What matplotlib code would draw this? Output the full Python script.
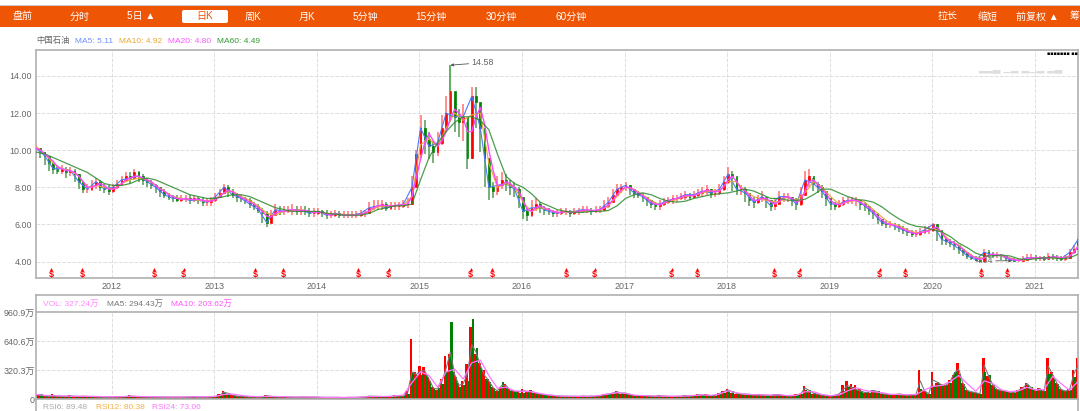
import numpy as np
import matplotlib
matplotlib.use('Agg')
import matplotlib.pyplot as plt
from matplotlib.patches import Rectangle, FancyBboxPatch

plt.rcParams['font.family'] = ['Liberation Sans', 'Noto Sans CJK SC', 'DejaVu Sans']

# half-month samples, one line per year
close = [10.1,9.9,9.7,9.3,9.0,8.9,9.0,8.8,8.9,8.7,8.3,7.9,7.9,8.1,8.3,8.0,7.9,7.8,
    8.0,8.2,8.4,8.6,8.5,8.8,8.6,8.4,8.3,8.1,8.0,7.8,7.6,7.5,7.4,7.3,7.4,7.4,7.3,7.4,7.3,7.2,7.2,7.3,
    7.5,7.7,8.0,7.8,7.6,7.5,7.4,7.3,7.1,7.0,6.8,6.6,6.1,6.5,6.8,6.7,6.7,6.8,6.8,6.7,6.8,6.7,6.6,6.6,
    6.7,6.6,6.5,6.5,6.6,6.5,6.5,6.5,6.5,6.5,6.6,6.6,6.9,7.0,7.0,7.1,6.9,7.0,7.0,7.0,7.1,7.1,8.0,9.8,
    11.2,10.6,10.2,9.9,10.4,11.2,12.0,13.2,11.8,11.5,11.8,9.6,12.9,12.6,11.2,9.6,8.0,7.8,8.1,8.4,8.2,8.0,7.9,7.5,
    6.7,6.5,6.9,7.1,6.9,6.8,6.7,6.6,6.6,6.7,6.7,6.6,6.7,6.7,6.8,6.8,6.7,6.8,6.8,7.0,7.2,7.6,7.9,8.0,
    8.1,7.9,7.7,7.6,7.5,7.3,7.1,7.0,7.1,7.2,7.3,7.4,7.4,7.5,7.6,7.5,7.6,7.7,7.8,7.9,7.7,7.7,7.9,8.3,
    8.7,8.6,7.9,7.9,7.7,7.3,7.2,7.4,7.5,7.3,7.0,7.1,7.5,7.5,7.5,7.3,7.1,7.6,8.4,8.6,8.2,8.0,7.8,7.4,
    7.1,7.0,7.1,7.3,7.3,7.3,7.3,7.1,7.0,6.8,6.6,6.3,6.1,6.0,6.0,5.9,5.8,5.7,5.6,5.5,5.5,5.6,5.7,5.7,
    6.0,5.7,5.2,5.1,5.0,4.9,4.7,4.5,4.3,4.2,4.1,4.05,4.5,4.4,4.35,4.35,4.3,4.2,4.1,4.05,4.05,4.1,4.2,4.25,
    4.2,4.2,4.15,4.3,4.25,4.2,4.15,4.2,4.5,4.7,5.2]
high = [10.3,10.1,9.9,9.6,9.3,9.2,9.2,9.1,9.1,9.0,8.7,8.3,8.2,8.4,8.5,8.4,8.2,8.1,
    8.2,8.4,8.6,8.8,8.8,9.0,8.9,8.7,8.5,8.4,8.2,8.0,7.9,7.7,7.6,7.6,7.6,7.6,7.6,7.6,7.5,7.5,7.4,7.5,
    7.7,7.9,8.2,8.1,7.9,7.7,7.6,7.5,7.4,7.2,7.1,6.9,6.7,6.8,7.1,7.0,7.0,7.0,7.1,7.0,7.0,7.0,6.9,6.9,
    6.9,6.8,6.8,6.7,6.8,6.7,6.7,6.7,6.7,6.7,6.8,6.8,7.2,7.3,7.3,7.3,7.2,7.2,7.2,7.2,7.3,7.4,8.6,10.0,
    11.9,11.6,11.0,10.5,11.0,11.9,12.9,14.58,12.7,12.2,12.5,11.5,13.4,13.4,12.3,10.6,8.7,8.3,8.6,8.8,8.7,8.4,8.3,8.0,
    7.4,6.9,7.3,7.4,7.2,7.0,6.9,6.8,6.8,6.9,6.9,6.8,6.9,6.9,7.0,7.0,6.9,7.0,7.0,7.3,7.5,7.9,8.2,8.2,
    8.3,8.1,7.9,7.8,7.7,7.5,7.3,7.2,7.3,7.4,7.5,7.6,7.6,7.7,7.8,7.7,7.8,7.9,8.0,8.1,7.9,7.9,8.2,8.6,
    9.1,8.9,8.3,8.1,8.0,7.6,7.5,7.6,7.8,7.5,7.2,7.4,7.8,7.7,7.7,7.5,7.4,8.0,8.9,9.0,8.5,8.3,8.1,7.7,
    7.4,7.2,7.3,7.5,7.5,7.5,7.5,7.3,7.2,7.0,6.8,6.6,6.3,6.2,6.2,6.1,6.0,5.9,5.8,5.7,5.7,5.8,5.9,5.9,
    6.1,5.9,5.4,5.3,5.2,5.1,4.9,4.7,4.5,4.4,4.3,4.2,4.7,4.6,4.5,4.5,4.4,4.3,4.2,4.2,4.2,4.3,4.4,4.4,
    4.35,4.3,4.3,4.45,4.4,4.35,4.3,4.35,4.7,4.9,5.4]
low = [9.8,9.6,9.2,8.9,8.7,8.7,8.7,8.5,8.6,8.3,7.9,7.7,7.7,7.8,7.9,7.8,7.7,7.6,
    7.7,7.9,8.1,8.3,8.2,8.4,8.3,8.1,8.0,7.9,7.7,7.5,7.4,7.3,7.2,7.2,7.2,7.2,7.1,7.2,7.1,7.0,7.0,7.0,
    7.2,7.4,7.7,7.5,7.4,7.2,7.2,7.1,6.9,6.8,6.6,6.1,5.85,6.1,6.5,6.5,6.5,6.6,6.5,6.5,6.5,6.5,6.4,6.4,
    6.5,6.4,6.3,6.35,6.4,6.35,6.35,6.35,6.35,6.35,6.4,6.4,6.6,6.8,6.8,6.8,6.7,6.8,6.8,6.8,6.9,6.9,7.1,8.0,
    9.6,9.8,9.5,9.3,9.7,10.3,11.0,11.5,11.0,10.7,10.5,9.0,9.5,11.2,9.9,8.0,7.3,7.4,7.6,7.9,7.8,7.6,7.5,6.9,
    6.3,6.2,6.4,6.7,6.6,6.5,6.5,6.4,6.4,6.5,6.5,6.4,6.5,6.5,6.6,6.6,6.5,6.6,6.6,6.7,6.9,7.2,7.6,7.7,
    7.8,7.6,7.4,7.4,7.2,7.0,6.9,6.8,6.8,7.0,7.1,7.1,7.2,7.3,7.3,7.3,7.4,7.5,7.5,7.6,7.4,7.5,7.6,7.8,
    8.2,7.8,7.6,7.6,7.2,7.0,6.9,7.1,7.2,6.9,6.7,6.8,7.1,7.2,7.2,7.0,6.8,7.0,7.7,8.0,7.8,7.7,7.4,7.0,
    6.8,6.8,6.9,7.0,7.1,7.1,7.0,6.8,6.7,6.5,6.3,6.0,5.9,5.8,5.8,5.7,5.6,5.5,5.4,5.3,5.3,5.4,5.5,5.5,
    5.6,5.1,4.9,4.9,4.8,4.6,4.4,4.3,4.15,4.1,4.05,4.05,4.2,4.2,4.2,4.2,4.1,4.05,4.04,4.04,4.05,4.05,4.1,4.1,
    4.05,4.05,4.05,4.1,4.1,4.05,4.05,4.05,4.2,4.4,4.7]
ma20 = [10.1,10.0,9.8,9.6,9.4,9.1,9.0,8.9,8.9,8.8,8.6,8.3,8.0,8.0,8.1,8.2,8.1,7.9,
    7.9,8.0,8.2,8.4,8.5,8.6,8.6,8.5,8.4,8.3,8.1,7.9,7.8,7.6,7.5,7.4,7.35,7.4,7.35,7.35,7.35,7.3,7.25,7.25,
    7.35,7.5,7.7,7.85,7.75,7.6,7.45,7.35,7.2,7.1,6.9,6.7,6.45,6.4,6.6,6.7,6.7,6.75,6.8,6.75,6.75,6.75,6.7,6.65,
    6.65,6.65,6.55,6.5,6.55,6.55,6.5,6.5,6.5,6.5,6.55,6.6,6.75,6.9,7.0,7.05,7.0,7.0,7.0,7.05,7.05,7.1,7.5,8.5,
    9.5,10.4,10.9,10.5,10.2,10.5,11.0,11.7,12.2,12.0,11.7,11.0,11.0,11.8,12.3,11.4,10.0,8.9,8.1,8.1,8.3,8.2,8.0,7.8,
    7.3,6.8,6.7,6.9,7.0,6.9,6.8,6.7,6.65,6.65,6.7,6.65,6.65,6.7,6.75,6.8,6.75,6.75,6.8,6.9,7.05,7.3,7.6,7.85,
    8.0,8.0,7.85,7.7,7.55,7.4,7.2,7.1,7.05,7.15,7.25,7.35,7.4,7.45,7.55,7.55,7.55,7.65,7.75,7.85,7.8,7.75,7.8,8.05,
    8.4,8.6,8.3,7.95,7.8,7.55,7.3,7.3,7.4,7.4,7.2,7.1,7.25,7.45,7.5,7.4,7.2,7.3,7.8,8.3,8.4,8.15,7.9,7.65,
    7.3,7.1,7.05,7.15,7.25,7.3,7.3,7.2,7.05,6.9,6.7,6.45,6.25,6.05,6.0,5.95,5.85,5.75,5.65,5.55,5.5,5.55,5.6,5.65,
    5.8,5.85,5.55,5.25,5.1,5.0,4.85,4.65,4.45,4.3,4.2,4.1,4.2,4.35,4.4,4.35,4.35,4.25,4.15,4.1,4.05,4.1,4.15,4.2,
    4.2,4.2,4.2,4.2,4.25,4.25,4.2,4.2,4.3,4.5,4.85]
vol_up = [60,45,35,30,50,30,25,35,45,30,30,35,25,30,25,30,20,25,
    25,30,30,25,40,30,25,20,30,20,25,20,25,20,20,25,20,20,25,30,25,20,25,30,
    35,50,90,60,40,35,30,25,25,20,25,25,40,30,25,25,30,25,20,20,25,20,20,25,
    20,20,15,20,20,15,15,20,15,20,25,25,35,30,25,30,25,30,40,30,35,90,660,300,
    360,350,240,130,100,220,480,500,300,180,200,390,800,500,400,320,220,130,90,130,170,110,90,90,
    110,90,100,70,60,50,40,45,35,30,35,30,30,30,35,30,35,30,35,60,60,70,90,60,
    70,50,40,35,40,35,30,30,40,35,30,30,30,30,40,35,40,50,45,50,35,40,70,90,
    110,70,60,50,60,50,45,55,45,40,40,50,50,40,35,30,50,60,140,90,60,50,45,35,
    35,45,60,150,200,170,150,110,70,80,100,80,60,55,50,45,60,50,40,55,50,320,100,60,
    300,180,170,150,210,270,400,180,100,80,70,60,450,250,160,110,100,90,80,70,100,130,180,120,
    100,120,90,450,300,180,110,90,110,320,450]
vol_dn = [45,50,30,35,40,35,30,30,30,35,25,30,30,25,25,25,25,20,
    20,25,25,30,30,35,25,25,25,25,20,25,20,25,20,20,20,25,20,25,20,25,20,25,
    30,40,70,70,45,30,30,30,20,25,20,30,35,30,25,20,25,20,25,20,20,25,20,20,
    20,15,20,15,15,20,15,15,20,15,20,20,30,30,30,25,30,25,30,35,30,60,300,260,
    260,280,200,110,120,170,300,845,240,130,150,200,880,560,340,220,190,120,90,190,130,90,80,70,
    70,80,70,60,50,45,45,35,35,30,30,30,30,25,30,30,30,30,30,45,50,60,70,70,
    60,55,40,40,35,40,35,30,30,30,30,25,30,30,30,30,35,40,45,40,40,35,55,70,
    90,85,70,55,50,55,45,45,45,45,40,45,45,40,35,35,40,50,100,100,70,55,40,40,
    30,40,50,90,130,130,100,85,75,70,90,85,60,50,45,50,50,50,45,45,50,110,80,55,
    140,190,140,150,180,300,280,170,90,80,70,55,300,260,150,100,90,85,70,70,90,110,160,130,
    90,110,90,280,240,170,100,85,100,240,300]
vol_ma5 = [50,45,35,30,40,30,28,30,35,30,28,30,28,25,25,25,22,22,
    22,25,27,27,33,30,25,22,25,22,22,22,22,22,20,22,20,22,22,26,22,22,22,26,
    30,42,75,62,42,32,30,27,22,22,22,27,35,30,25,22,27,22,22,20,22,22,20,22,
    20,18,18,18,18,18,15,18,18,18,22,22,32,30,27,27,27,27,35,32,32,70,300,270,
    310,310,220,120,110,190,340,520,270,150,170,280,600,520,370,260,200,125,90,150,150,100,85,80,
    90,85,85,65,55,48,42,40,35,30,32,30,30,28,32,30,32,30,32,50,55,65,80,65,
    65,52,40,38,38,38,32,30,35,32,30,28,30,30,35,32,38,45,45,45,38,38,60,80,
    100,78,65,52,55,52,45,50,45,42,40,48,48,40,35,32,45,55,120,95,65,52,42,38,
    32,42,55,105,150,125,105,88,72,75,95,82,60,52,48,48,55,50,42,50,50,200,90,58,
    210,185,155,150,195,285,330,175,95,80,70,58,370,255,155,105,95,88,75,70,95,120,170,125,
    95,115,90,360,270,175,105,88,105,280,375]

# monthly samples
ma5 = [10.1,9.7,9.0,9.0,8.9,8.3,7.9,8.3,7.9,
    8.0,8.4,8.5,8.6,8.3,8.0,7.6,7.4,7.4,7.3,7.3,7.2,
    7.5,8.0,7.6,7.4,7.1,6.8,6.1,6.8,6.7,6.8,6.8,6.6,
    6.7,6.5,6.6,6.5,6.5,6.6,6.9,7.0,6.9,7.0,7.1,8.0,
    11.2,10.2,10.4,12.0,11.8,11.8,12.9,11.2,8.0,8.1,8.2,7.9,
    6.7,6.9,6.9,6.7,6.6,6.7,6.7,6.8,6.7,6.8,7.2,7.9,
    8.1,7.7,7.5,7.1,7.1,7.3,7.4,7.6,7.6,7.8,7.7,7.9,
    8.7,7.9,7.7,7.2,7.5,7.0,7.5,7.5,7.1,8.4,8.2,7.8,
    7.1,7.1,7.3,7.3,7.0,6.6,6.1,6.0,5.8,5.6,5.5,5.7,
    6.0,5.2,5.0,4.7,4.3,4.1,4.5,4.35,4.3,4.1,4.05,4.2,
    4.2,4.15,4.25,4.15,4.5,5.2]
ma10 = [10.2,9.8,9.3,9.0,8.9,8.6,8.0,8.1,8.0,
    7.9,8.2,8.4,8.5,8.4,8.1,7.8,7.5,7.4,7.35,7.3,7.25,
    7.4,7.7,7.8,7.5,7.3,7.0,6.6,6.5,6.7,6.75,6.8,6.7,
    6.65,6.6,6.55,6.55,6.5,6.55,6.7,6.95,7.0,7.0,7.05,7.5,
    10.3,10.6,10.2,11.2,12.0,11.6,11.9,12.0,9.3,8.0,8.2,8.0,
    7.2,6.7,6.9,6.8,6.65,6.65,6.7,6.7,6.75,6.75,7.0,7.5,
    8.0,7.9,7.6,7.3,7.05,7.2,7.35,7.5,7.55,7.7,7.8,7.8,
    8.3,8.3,7.8,7.5,7.35,7.25,7.2,7.5,7.3,7.7,8.3,8.0,
    7.5,7.1,7.2,7.3,7.2,6.8,6.4,6.05,5.95,5.7,5.55,5.6,
    5.8,5.6,5.1,4.9,4.5,4.2,4.2,4.4,4.3,4.2,4.05,4.1,
    4.2,4.2,4.2,4.2,4.3,4.8]
ma60 = [9.9,9.8,9.6,9.4,9.2,9.0,8.8,8.5,8.2,
    8.1,8.1,8.2,8.4,8.5,8.4,8.2,8.0,7.8,7.6,7.5,7.4,
    7.4,7.5,7.6,7.6,7.5,7.3,7.1,6.9,6.8,6.7,6.7,6.7,
    6.7,6.6,6.55,6.5,6.5,6.5,6.6,6.8,6.9,7.0,7.0,7.1,
    8.4,9.6,10.4,11.0,11.5,11.8,11.8,11.6,11.1,9.8,8.6,8.2,
    8.0,7.65,7.2,7.0,6.8,6.7,6.65,6.65,6.7,6.7,6.75,7.0,
    7.4,7.6,7.7,7.6,7.4,7.25,7.2,7.25,7.4,7.5,7.6,7.65,
    7.7,7.8,7.9,7.8,7.6,7.4,7.4,7.3,7.3,7.35,7.6,7.9,
    7.9,7.7,7.5,7.35,7.3,7.2,6.95,6.6,6.3,6.05,5.9,5.85,
    5.7,5.6,5.35,5.0,4.75,4.45,4.3,4.3,4.35,4.3,4.15,4.1,
    4.15,4.2,4.2,4.15,4.2,4.4]
vol_ma10 = [50,40,35,35,30,30,30,28,25,
    24,26,30,28,25,24,22,22,22,24,24,24,
    28,50,55,40,30,25,28,28,25,22,22,22,
    20,18,18,18,18,20,26,28,28,32,45,180,
    300,260,130,300,330,220,400,430,260,120,130,90,
    85,80,60,45,35,30,30,30,30,40,55,70,
    62,42,38,35,32,30,30,33,38,45,40,55,
    90,68,52,48,44,42,45,38,40,80,80,50,
    36,45,90,125,95,80,70,52,50,46,48,100,
    140,150,190,260,170,85,200,170,100,80,90,130,
    100,105,250,170,95,200]

year_ticks = [2012, 2013, 2014, 2015, 2016, 2017, 2018, 2019, 2020, 2021]
price_ticks = [4, 6, 8, 10, 12, 14]
vol_ticks = [0, 320.3, 640.6, 960.9]
vol_tick_labels = ['0', '320.3万', '640.6万', '960.9万']
dividend_dates = [2011.41, 2011.71, 2012.41, 2012.70, 2013.40, 2013.67, 2014.40, 2014.70,
                  2015.50, 2015.71, 2016.43, 2016.71, 2017.46, 2017.71, 2018.46, 2018.71,
                  2019.49, 2019.74, 2020.48, 2020.73]
low_date = 2020.78
low_value = 4.04

nav_left = [('盘前', 23), ('分时', 80), ('5日 ▲', 141), ('周K', 253), ('月K', 307), ('5分钟', 365),
            ('15分钟', 431), ('30分钟', 501), ('60分钟', 571), ('拉长', 948), ('缩短', 988), ('前复权 ▲', 1037)]
price_legend = [('中国石油', 36, '#666666'), ('MA5: 5.11', 75, '#6f8fff'), ('MA10: 4.92', 119, '#e8a735'),
                ('MA20: 4.80', 168, '#ff55ff'), ('MA60: 4.49', 217, '#339933')]
vol_legend = [('VOL: 327.24万', 43, '#ff88ff'), ('MA5: 294.43万', 107, '#777777'), ('MA10: 203.62万', 171, '#ff55ff')]
rsi_legend = [('RSI6: 89.48', 43, '#aaaaaa'), ('RSI12: 80.38', 96, '#f5b041'), ('RSI24: 73.06', 152, '#ff77ff')]

W, H = 1080, 411
GREY = '#666666'
GRID = '#dddddd'
SPINE = '#b0b0b0'
ORANGE = '#ee5505'


def px_axes(fig, left, top, right, bottom):
    return fig.add_axes([left / W, 1 - bottom / H, (right - left) / W, (bottom - top) / H])


def style_spines(ax):
    for s in ax.spines.values():
        s.set_color(SPINE)
        s.set_linewidth(1.2)


fig = plt.figure(figsize=(W / 100, H / 100), dpi=100)

# page layer, in pixels: nav bar and legends
page = fig.add_axes([0, 0, 1, 1])
page.set_xlim(0, W)
page.set_ylim(H, 0)
page.axis('off')
page.add_patch(Rectangle((0, 5), W, 1, color='#cccccc', lw=0))
page.add_patch(Rectangle((0, 6), W, 21, color=ORANGE, lw=0))
page.add_patch(FancyBboxPatch((182, 10), 46, 13, boxstyle='round,pad=0,rounding_size=2', fc='white', ec='none'))
for label, x in nav_left:
    page.text(x, 16.5, label, color='white', fontsize=7.2, ha='center', va='center')
page.text(205, 16.5, '日K', color=ORANGE, fontsize=7.2, ha='center', va='center')
page.text(1079.5, 16.5, '筹', color='white', fontsize=7.2, ha='right', va='center')
for label, x, c in price_legend:
    page.text(x, 41.5, label, color=c, fontsize=6, ha='left', va='center')
for label, x, c in vol_legend:
    page.text(x, 304, label, color=c, fontsize=6, ha='left', va='center')
for label, x, c in rsi_legend:
    page.text(x, 407, label, color=c, fontsize=6, ha='left', va='center')

close = np.array(close)
high = np.array(high)
low = np.array(low)
dates = 2011.26 + np.arange(len(close)) / 24
monthly = dates[::2]
opens = np.r_[close[0], close[:-1]]
up = close >= opens
candle_colors = np.where(up, '#ff0000', '#008000')
bar_w = 1 / 24

# price panel
ax = px_axes(fig, 36, 50.5, 1078, 277.5)
ax.patch.set_alpha(0)
ax.set_xlim(2011.259, 2021.424)
ax.set_ylim(3.14, 15.37)
ax.grid(True, color=GRID, linestyle='--', linewidth=0.7)
ax.set_axisbelow(True)
ax.set_xticks(year_ticks)
ax.set_yticks(price_ticks)
ax.set_yticklabels(['%.2f' % v for v in price_ticks])
ax.tick_params(length=0, labelsize=6.4, labelcolor=GREY, pad=3)
style_spines(ax)

wick_colors = np.where(up, '#ff7070', '#559955')
wick_colors[np.argmax(high)] = '#339933'
ax.vlines(dates, low, high, colors=wick_colors, linewidth=1.1, zorder=2)
ax.bar(dates, close - opens, bottom=opens, width=bar_w * 0.4, color=candle_colors,
       edgecolor=candle_colors, linewidth=0.5, zorder=3)
ax.plot(monthly, ma5, color='#4f78ff', lw=0.8, zorder=4)
ax.plot(monthly, ma10, color='#e8a735', lw=0.8, zorder=4)
ax.plot(dates, ma20, color='#ff44ff', lw=1.0, zorder=5)
ax.plot(monthly, ma60, color='#2e8b2e', lw=0.9, alpha=0.85, zorder=5)

arrow = dict(arrowstyle='-|>', color='#555555', lw=0.6, mutation_scale=4, shrinkA=0, shrinkB=0)
peak = np.argmax(high)
ax.annotate('%.2f' % high[peak], xy=(dates[peak], high[peak]), xytext=(21, 2.5), textcoords='offset pixels',
            fontsize=6.4, color=GREY, va='center', arrowprops=arrow)
ax.annotate('%.2f' % low_value, xy=(low_date, low_value), xytext=(-19, 0), textcoords='offset pixels',
            fontsize=6.4, color=GREY, va='center', ha='right', arrowprops=arrow)

for d in dividend_dates:
    ax.text(d, 3.3, '$', color='#ff0000', fontsize=6.5, fontweight='bold', ha='center', va='center', zorder=6)
    ax.plot(d, 3.62, marker='^', color='#ff0000', markersize=2.2, mew=0, zorder=6)

# washed out corner marks
ax.text(0.985, 0.925, '▂▂▃ ▁▂ ▂▁▂ ▂▃', transform=ax.transAxes, color='#dedede', fontsize=7, ha='right', va='center',
        family=['DejaVu Sans'])
ax.text(1.0, 0.985, '▪▪▪▪▪▪▪ ▪▪', transform=ax.transAxes, color='black', fontsize=3.5, ha='right', va='center',
        family=['DejaVu Sans'])

# volume panel
vax = px_axes(fig, 36, 295, 1078, 399)
vax.patch.set_alpha(0)
vax.set_xlim(ax.get_xlim())
vax.set_ylim(0, 1148.7)
vax.set_yticks(vol_ticks)
vax.set_yticklabels(vol_tick_labels)
vax.set_xticks([])
vax.tick_params(length=0, labelsize=6.4, labelcolor=GREY, pad=1)
style_spines(vax)
vax.hlines(vol_ticks[1:3], *vax.get_xlim(), colors=GRID, linestyles='--', linewidth=0.7, zorder=1)
vax.hlines(vol_ticks[3], *vax.get_xlim(), colors='#bbbbbb', linewidth=1.4, zorder=1)
vax.vlines(year_ticks, 0, vol_ticks[3], colors=GRID, linestyles='--', linewidth=0.7, zorder=1)
vax.bar(dates - bar_w / 4, vol_up, width=bar_w * 0.6, color='#ff0000', zorder=2)
vax.bar(dates + bar_w / 4, vol_dn, width=bar_w * 0.5, color='#008000', zorder=2)
vax.plot(dates, vol_ma5, color='#777777', lw=0.8, zorder=3)
vax.plot(monthly, vol_ma10, color='#ff77ff', lw=0.9, zorder=3)

# the RSI panel starts at the bottom edge, only its side rules show
page.vlines([36, 1078], 399, H, colors=SPINE, linewidth=1.2)

fig.savefig('out.png', dpi=100)
